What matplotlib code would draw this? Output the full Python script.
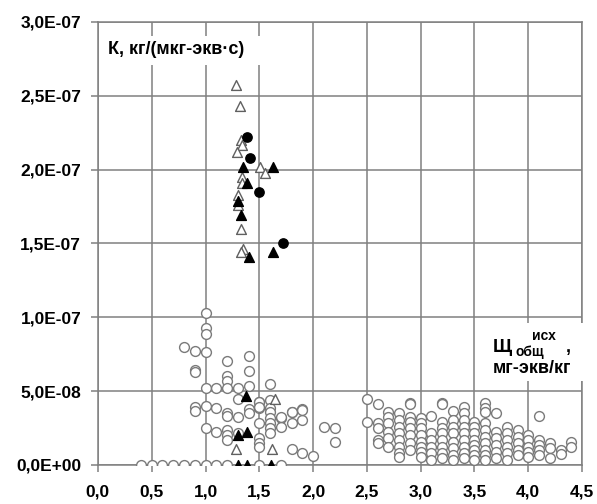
import matplotlib
matplotlib.use("Agg")
import matplotlib.pyplot as plt
from matplotlib.patches import Rectangle

plt.rcParams['font.family'] = ['Liberation Sans', 'DejaVu Sans']

# open circles, values in units of 1e-8
circ_x = [0.4, 0.5, 0.6, 0.7, 0.8, 0.9, 1.0, 1.1, 1.2, 1.5, 1.7,
          1.0, 1.0, 1.0, 0.8, 0.9, 1.0, 0.9, 0.9, 1.2, 1.4, 1.4, 1.2, 1.2, 1.4,
          1.0, 1.1, 1.2, 1.3, 1.3, 0.9, 0.9, 1.0, 1.1, 1.2, 1.2, 1.3, 1.4, 1.4,
          1.0, 1.1, 1.2, 1.2, 1.2, 1.3,
          1.6, 1.5, 1.5, 1.6, 1.6, 1.5, 1.6, 1.6, 1.6, 1.6, 1.7, 1.7, 1.8, 1.8,
          1.9, 1.9, 1.5, 1.5, 1.5, 1.8, 1.9, 2.0, 2.1, 2.2, 2.2, 1.6, 1.5, 1.5,
          1.7, 1.8, 1.9]
circ_y = [0, 0, 0, 0, 0, 0, 0, 0, 0, 0, 0,
          10.3, 9.3, 8.9, 8.0, 7.7, 7.65, 6.4, 6.3, 7.05, 7.4, 6.35, 6.0, 5.7, 5.34,
          5.2, 5.2, 5.2, 5.2, 4.46, 3.94, 3.65, 4.0, 3.83, 3.5, 3.33, 3.22, 3.78, 3.49,
          2.48, 2.25, 2.36, 2.03, 1.7, 2.2,
          4.4, 4.24, 3.83, 3.87, 3.6, 2.82, 3.15, 2.82, 2.48, 2.14, 3.2, 2.59, 3.6, 2.82,
          3.76, 3.04, 1.8, 1.47, 1.24, 1.08, 0.79, 0.63, 2.59, 2.52, 1.57, 5.5, 4.28, 3.94,
          3.26, 3.56, 3.72]

# right cluster, by columns
cols = {
    2.5: [4.46, 2.93],
    2.6: [4.1, 2.86, 2.48, 1.69, 1.47],
    2.7: [3.6, 3.26, 2.82, 2.25, 1.8, 1.24],
    2.8: [3.49, 3.04, 2.59, 2.14, 1.69, 1.24, 0.79, 0.56],
    2.9: [4.2, 4.12, 3.26, 2.93, 2.48, 2.03, 1.47, 1.01],
    3.0: [3.15, 2.82, 2.48, 2.03, 1.57, 1.24, 0.9, 0.56],
    3.1: [3.31, 2.14, 1.69, 1.24, 0.79, 0.34],
    3.2: [4.17, 4.1, 2.93, 2.48, 2.14, 1.69, 1.24, 0.79, 0.45],
    3.3: [3.67, 3.04, 2.59, 2.14, 1.57, 1.13, 0.68, 0.34],
    3.4: [3.94, 3.49, 3.04, 2.59, 2.14, 1.69, 1.24, 0.79, 0.45],
    3.5: [2.93, 2.59, 2.14, 1.69, 1.35, 1.01, 0.68, 0.34],
    3.6: [4.2, 3.83, 3.6, 2.82, 2.36, 1.91, 1.47, 1.01, 0.68, 0.34],
    3.7: [3.49, 2.25, 1.8, 1.35, 0.9, 0.45],
    3.8: [2.59, 2.14, 1.69, 1.24, 0.79, 0.34],
    3.9: [2.36, 1.91, 1.47, 1.01, 0.68],
    4.0: [2.03, 1.69, 1.24, 0.9, 0.56],
    4.1: [3.31, 1.69, 1.35, 1.01, 0.68],
    4.2: [1.47, 1.13, 0.45],
    4.3: [1.01, 0.74],
    4.4: [1.57, 1.24],
}
for cx, ys in cols.items():
    circ_x += [cx] * len(ys)
    circ_y += ys

# open triangles
otri_x = [1.28, 1.32, 1.33, 1.34, 1.29, 1.51, 1.55, 1.34, 1.34, 1.30, 1.30, 1.33,
          1.35, 1.33, 1.65, 1.28, 1.62]
otri_y = [25.7, 24.3, 22.0, 21.7, 21.2, 20.2, 19.8, 19.5, 19.1, 18.3, 17.6, 16.0,
          14.6, 14.4, 4.46, 1.1, 1.1]

# filled triangles
ftri_x = [1.35, 1.63, 1.39, 1.30, 1.33, 1.63, 1.40, 1.38, 1.30, 1.39, 1.30, 1.39, 1.61]
ftri_y = [20.2, 20.2, 19.1, 17.9, 16.9, 14.4, 14.1, 4.7, 2.0, 2.25, 0, 0, 0]

# filled circles
fcirc_x = [1.39, 1.41, 1.50, 1.72]
fcirc_y = [22.2, 20.8, 18.5, 15.0]

xticks = [0.0, 0.5, 1.0, 1.5, 2.0, 2.5, 3.0, 3.5, 4.0, 4.5]
xlabels = ['0,0', '0,5', '1,0', '1,5', '2,0', '2,5', '3,0', '3,5', '4,0', '4,5']
yticks = [0, 5e-8, 1e-7, 1.5e-7, 2e-7, 2.5e-7, 3e-7]
ylabels = ['0,0E+00', '5,0E-08', '1,0E-07', '1,5E-07', '2,0E-07', '2,5E-07', '3,0E-07']

fig = plt.figure(figsize=(5.97, 5.04), dpi=100)
ax = fig.add_axes([0.164, 0.0774, 0.811, 0.879])

sc = 1e-8
ax.scatter(circ_x, [v * sc for v in circ_y], s=50, facecolors='white',
           edgecolors='#7a7a7a', linewidths=1.0, zorder=3)
ax.scatter(otri_x, [v * sc for v in otri_y], s=50, marker='^', facecolors='white',
           edgecolors='#606060', linewidths=1.0, zorder=4)
ax.scatter(ftri_x, [v * sc for v in ftri_y], s=50, marker='^', color='black', zorder=5)
ax.scatter(fcirc_x, [v * sc for v in fcirc_y], s=45, color='black', zorder=5)

ax.set_xlim(0, 4.5)
ax.set_ylim(0, 3e-7)
ax.set_xticks(xticks)
ax.set_xticklabels(xlabels, fontsize=12.5, fontweight='bold')
ax.set_yticks(yticks)
ax.set_yticklabels(ylabels, fontsize=12.5, fontweight='bold')
ax.grid(True, color='#808080', linewidth=1.1, zorder=0)
ax.set_axisbelow(True)
ax.tick_params(length=5, width=1.1, color='#808080')
ax.tick_params(axis='y', pad=7)
ax.tick_params(axis='x', pad=9)
for sp in ax.spines.values():
    sp.set_color('#808080')
    sp.set_linewidth(1.1)

# white boxes behind the labels
ax.add_patch(Rectangle((0.004, 0.903), 0.33, 0.066, transform=ax.transAxes,
                       facecolor='white', edgecolor='none', zorder=2.7, clip_on=False))
ax.add_patch(Rectangle((0.80, 0.190), 0.21, 0.32 - 0.19, transform=ax.transAxes,
                       facecolor='white', edgecolor='none', zorder=2.7, clip_on=False))

ax.text(0.0207, 0.937, 'К, кг/(мкг-экв·с)', transform=ax.transAxes, fontsize=13,
        fontweight='bold', va='center', ha='left', zorder=7)

# x axis label: Щ with subscript and superscript
ax.text(0.815, 0.256, 'Щ', transform=ax.transAxes, fontsize=13.5,
        fontweight='bold', va='baseline', ha='left', zorder=7)
ax.text(0.862, 0.246, 'общ', transform=ax.transAxes, fontsize=10,
        fontweight='bold', va='baseline', ha='left', zorder=7)
ax.text(0.896, 0.283, 'исх', transform=ax.transAxes, fontsize=10,
        fontweight='bold', va='baseline', ha='left', zorder=7)
ax.text(0.966, 0.255, ',', transform=ax.transAxes, fontsize=13,
        fontweight='bold', va='baseline', ha='left', zorder=7)
ax.text(0.815, 0.207, 'мг-экв/кг', transform=ax.transAxes, fontsize=13,
        fontweight='bold', va='baseline', ha='left', zorder=7)

fig.savefig('out.png', dpi=100)
